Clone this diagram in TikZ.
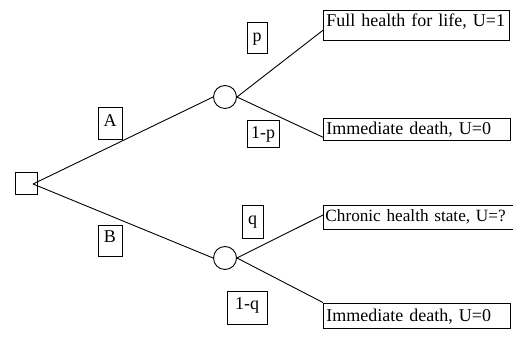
\documentclass[tikz,border=0pt]{standalone}
\usepackage{fontspec}
\setmainfont{Liberation Serif}
\usetikzlibrary{calc}
\begin{document}
\begin{tikzpicture}[x=1pt,y=1pt,line width=0.9pt,
  every node/.style={font=\fontsize{18}{20}\selectfont},
  lab/.style={draw,inner sep=0pt,anchor=base},
  outc/.style={draw,inner ysep=0pt,inner xsep=3pt,anchor=base west,align=left},
  chance/.style={draw,circle,minimum size=23pt,inner sep=0pt},
  decision/.style={draw,rectangle,minimum size=22pt,inner sep=0pt}]
\useasboundingbox (0,0) rectangle (513,339);
% decision and chance nodes
\node[decision] (dec) at (26,156) {};
\coordinate (apex) at (33,155);
\node[chance] (c1) at (225,242) {};
\node[chance] (c2) at (225,81) {};
% outcome boxes
\node[outc,text height=17pt,text depth=13pt,text width=180pt] (o1) at (323,312) {Full health for life, U=1};
\node[outc,text height=17pt,text depth=5pt,text width=181pt] (o2) at (323,204) {Immediate death, U=0};
\node[outc,text height=17pt,text depth=7pt,text width=186pt,inner xsep=2pt,font=\fontsize{17.2}{20}\selectfont] (o3) at (323,117) {Chronic health state, U=?};
\node[outc,text height=19pt,text depth=6pt,text width=181pt] (o4) at (323,17) {Immediate death, U=0};
% connectors
\draw (apex) -- (c1.west);
\draw (apex) -- (c2.west);
\draw (c1.east) -- ($(o1.south west)!0.33!(o1.north west)$);
\draw (c1.east) -- ($(o2.south west)!0.14!(o2.north west)$);
\draw (c2.east) -- ($(o3.south west)!0.58!(o3.north west)$);
\draw (c2.east) -- (o4.north west);
% branch labels
\node[lab,text height=20pt,text depth=12pt,minimum width=24pt] (la) at (110,212) {A};
\node[lab,text height=18pt,text depth=13pt,minimum width=24pt] (lb) at (110,96) {B};
\node[lab,text height=20pt,text depth=11pt,minimum width=20pt] (lp) at (257,297) {p};
\node[lab,text height=19pt,text depth=8pt,minimum width=32pt] (lnp) at (263,200) {1-p};
\node[lab,text height=20pt,text depth=13pt,minimum width=21pt] (lq) at (252.5,114) {q};
\node[lab,text height=19pt,text depth=14pt,minimum width=40pt] (lnq) at (247,29) {1-q};
\end{tikzpicture}
\end{document}
